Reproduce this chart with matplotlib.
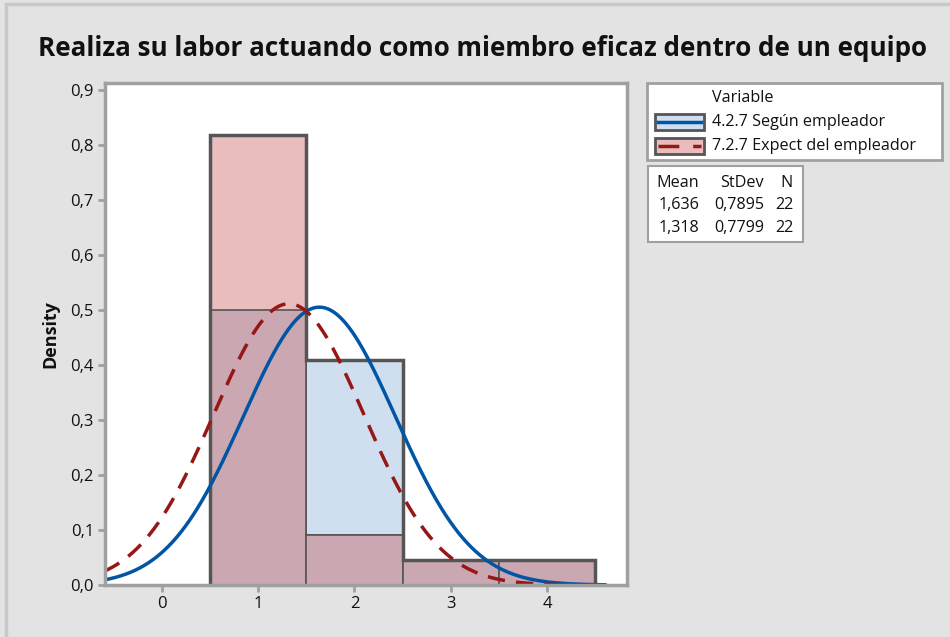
import numpy as np
import matplotlib
matplotlib.use("Agg")
import matplotlib.pyplot as plt
from matplotlib.patches import Rectangle
from matplotlib.lines import Line2D

plt.rcParams['font.family'] = ['Open Sans', 'DejaVu Sans']

# ---- data ----
title = "Realiza su labor actuando como miembro eficaz dentro de un equipo"
bin_centers = [1, 2, 3, 4]
bin_width = 1.0
labels = ["4.2.7 Según empleador", "7.2.7 Expect del empleador"]
counts_a = [11, 9, 1, 1]      # 4.2.7 Según empleador
counts_b = [18, 2, 1, 1]      # 7.2.7 Expect del empleador
means = [1.636, 1.318]
stdevs = [0.7895, 0.7799]
ns = [22, 22]
xticks = [0, 1, 2, 3, 4]
yticks = [0.0, 0.1, 0.2, 0.3, 0.4, 0.5, 0.6, 0.7, 0.8, 0.9]

W, H = 950, 637
fig = plt.figure(figsize=(W / 100, H / 100), dpi=100)
fig.patch.set_facecolor('#e3e3e3')

def fx(x):
    return x / W

def fy(y):
    return 1 - y / H

TXT = '#111111'
FS = 11.6

# outer border
fig.add_artist(Rectangle((fx(6), fy(H + 5)), fx(W), fy(4) - fy(H + 5),
                         transform=fig.transFigure, fill=False,
                         edgecolor='#c8c8c8', lw=2.5))

ax = fig.add_axes([fx(105), fy(585), fx(627) - fx(105), fy(83) - fy(585)])
ax.set_facecolor('white')

c_blue_fill = '#cfdff0'
c_red_fill = '#e9bcbd'
c_overlap = '#cba8b1'
c_edge = '#555555'
c_blue = '#0055a5'
c_red = '#971717'

centers = np.array(bin_centers, dtype=float)
dens_a = np.array(counts_a) / (ns[0] * bin_width)
dens_b = np.array(counts_b) / (ns[1] * bin_width)
overlap = np.minimum(dens_a, dens_b)

ax.bar(centers, dens_a, width=bin_width, color=c_blue_fill, edgecolor=c_edge, lw=1.2, zorder=2)
ax.bar(centers, dens_b, width=bin_width, color=c_red_fill, edgecolor=c_edge, lw=1.2, zorder=2)
ax.bar(centers, overlap, width=bin_width, color=c_overlap, edgecolor=c_edge, lw=1.2, zorder=3)
edges = np.concatenate([centers - bin_width / 2, [centers[-1] + bin_width / 2]])
ax.stairs(np.maximum(dens_a, dens_b), edges, color=c_edge, lw=2.5, baseline=0, zorder=4)

# fitted normal curves
xs = np.linspace(-0.6, 4.6, 600)
def npdf(x, m, s):
    return np.exp(-0.5 * ((x - m) / s) ** 2) / (s * np.sqrt(2 * np.pi))

ax.plot(xs, npdf(xs, means[0], stdevs[0]), color=c_blue, lw=2.5, zorder=5)
ax.plot(xs, npdf(xs, means[1], stdevs[1]), color=c_red, lw=2.5, dashes=(5, 3.2), zorder=6)

ax.set_xlim(-0.59, 4.83)
ax.set_ylim(0, 0.913)
ax.set_xticks(xticks)
ax.set_xticklabels([str(v) for v in xticks])
ax.set_yticks(yticks)
ax.set_yticklabels([f"{v:.1f}".replace('.', ',') for v in yticks])
for s in ax.spines.values():
    s.set_color('#a0a0a0')
    s.set_linewidth(2.5)
    s.set_zorder(7)
ax.tick_params(axis='both', colors='#a0a0a0', width=2, length=5, labelcolor=TXT,
               labelsize=12, pad=3)
ax.set_ylabel("Density", fontsize=13, fontweight='bold', color=TXT, labelpad=8)

fig.text(fx(482), fy(48), title, ha='center', va='center', fontsize=18.7,
         fontweight='bold', color=TXT)

# legend box
fig.add_artist(Rectangle((fx(647), fy(160)), fx(942) - fx(647), fy(83) - fy(160),
                         transform=fig.transFigure, facecolor='white',
                         edgecolor='#a0a0a0', lw=2))
fig.text(fx(712), fy(98), "Variable", ha='left', va='center', fontsize=FS, color=TXT)
entries = [(122, c_blue_fill, c_blue, None), (146, c_red_fill, c_red, (6, 4))]
for (yc, fc, lc, ds), lab in zip(entries, labels):
    fig.add_artist(Rectangle((fx(655), fy(yc + 8)), fx(704) - fx(655), fy(yc - 8) - fy(yc + 8),
                             transform=fig.transFigure, facecolor=fc,
                             edgecolor=c_edge, lw=2))
    ln = Line2D([fx(658), fx(701)], [fy(yc), fy(yc)], transform=fig.transFigure,
                color=lc, lw=2.5)
    if ds:
        ln.set_dashes(ds)
    fig.add_artist(ln)
    fig.text(fx(712), fy(yc), lab, ha='left', va='center', fontsize=FS, color=TXT)

# stats box
fig.add_artist(Rectangle((fx(648), fy(242)), fx(803) - fx(648), fy(166) - fy(242),
                         transform=fig.transFigure, facecolor='white',
                         edgecolor='#a0a0a0', lw=1.5))
col_x = [699, 764, 793]
rows_y = [183, 205, 228]
for txt, xr in zip(["Mean", "StDev", "N"], col_x):
    fig.text(fx(xr), fy(rows_y[0]), txt, ha='right', va='center', fontsize=FS, color=TXT)
for i in range(2):
    vals = [f"{means[i]:.3f}".replace('.', ','), f"{stdevs[i]:.4f}".replace('.', ','), str(ns[i])]
    for txt, xr in zip(vals, col_x):
        fig.text(fx(xr), fy(rows_y[i + 1]), txt, ha='right', va='center', fontsize=FS, color=TXT)

fig.savefig("out.png", dpi=100, facecolor=fig.get_facecolor())
